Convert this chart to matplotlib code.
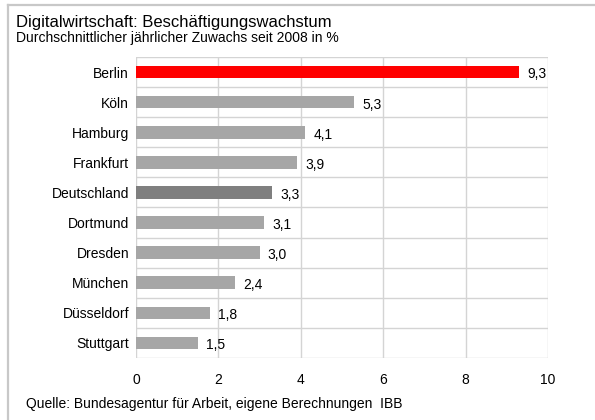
import matplotlib
matplotlib.use("Agg")
import matplotlib.pyplot as plt
from matplotlib.lines import Line2D

plt.rcParams['font.family'] = ['Liberation Sans', 'DejaVu Sans']

categories = ["Berlin", "Köln", "Hamburg", "Frankfurt", "Deutschland",
              "Dortmund", "Dresden", "München", "Düsseldorf", "Stuttgart"]
values = [9.3, 5.3, 4.1, 3.9, 3.3, 3.1, 3.0, 2.4, 1.8, 1.5]
value_labels = ["9,3", "5,3", "4,1", "3,9", "3,3", "3,1", "3,0", "2,4", "1,8", "1,5"]
xticks = [0, 2, 4, 6, 8, 10]

colors = []
for c in categories:
    if c == "Berlin":
        colors.append("#ff0000")
    elif c == "Deutschland":
        colors.append("#7f7f7f")
    else:
        colors.append("#a6a6a6")

W, H = 595, 420
fig = plt.figure(figsize=(W / 100, H / 100), dpi=100)
fig.patch.set_facecolor("white")

# outer frame (top and left visible)
fig.add_artist(Line2D([8 / W, 1.0], [1 - 5 / H, 1 - 5 / H], color="#c8c8c8", lw=1.6,
                      transform=fig.transFigure))
fig.add_artist(Line2D([8 / W, 8 / W], [0, 1 - 5 / H], color="#c8c8c8", lw=1.6,
                      transform=fig.transFigure))

left, right, top, bottom = 136 / W, 548 / W, 57 / H, 358 / H
ax = fig.add_axes([left, 1 - bottom, right - left, bottom - top])

n = len(categories)
ypos = list(range(n))
ax.barh(ypos, values, height=0.42, color=colors, zorder=3)
ax.set_ylim(n - 0.5, -0.5)
ax.set_xlim(0, 10)

fs = 10
for y, v, lab in zip(ypos, values, value_labels):
    ax.text(v + 0.2, y + 0.08, lab, va="center", ha="left", fontsize=fs, color="#000000")

# grid
grid_c = "#d4d4d4"
for x in xticks:
    ax.axvline(x, color=grid_c, lw=1.0, zorder=1)
for i in range(n + 1):
    ax.axhline(i - 0.5, color=grid_c, lw=1.0, zorder=1)

for s in ax.spines.values():
    s.set_visible(False)

ax.set_xticks(xticks)
ax.set_xticklabels([str(x) for x in xticks], fontsize=fs)
ax.set_yticks(ypos)
ax.set_yticklabels(categories, fontsize=fs)
ax.tick_params(axis="both", length=0)
ax.tick_params(axis="x", pad=11)
ax.tick_params(axis="y", pad=5)

fig.text(16 / W, 1 - 22 / H, "Digitalwirtschaft: Beschäftigungswachstum", fontsize=12,
         va="center", ha="left")
fig.text(16 / W, 1 - 38 / H, "Durchschnittlicher jährlicher Zuwachs seit 2008 in %",
         fontsize=10, va="center", ha="left")
fig.text(26 / W, 1 - 404 / H, "Quelle: Bundesagentur für Arbeit, eigene Berechnungen  IBB",
         fontsize=10, va="center", ha="left")

fig.savefig("out.png", dpi=100)
